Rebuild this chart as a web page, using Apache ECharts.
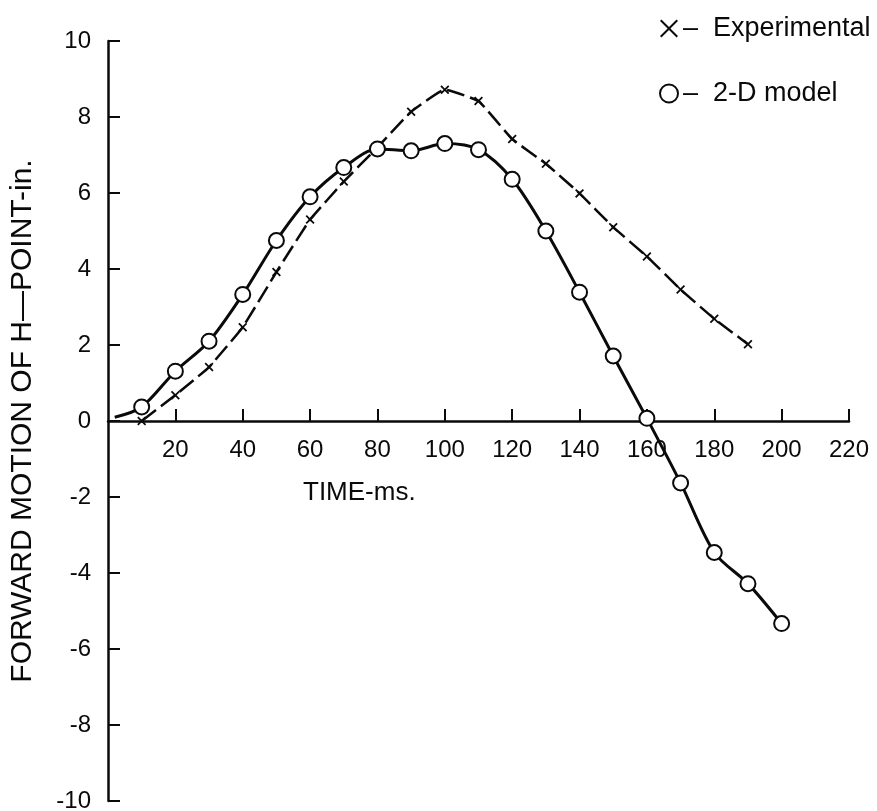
<!DOCTYPE html>
<html>
<head>
<meta charset="utf-8">
<script src="https://cdn.jsdelivr.net/npm/echarts@6/dist/echarts.min.js"></script>
<style>
html,body{margin:0;padding:0;background:#fff;}
#chart{width:877px;height:811px;}
</style>
</head>
<body>
<div id="chart"></div>
<script>
// Data
var expTime  = [10, 20, 30, 40, 50, 60, 70, 80, 90, 100, 110, 120, 130, 140, 150, 160, 170, 180, 190];
var expValue = [0, 0.68, 1.42, 2.47, 3.92, 5.3, 6.3, 7.2, 8.14, 8.72, 8.42, 7.42, 6.77, 5.99, 5.1, 4.33, 3.46, 2.69, 2.02];
// first point is the start of the fitted curve (no marker)
var modelTime  = [2, 10, 20, 30, 40, 50, 60, 70, 80, 90, 100, 110, 120, 130, 140, 150, 160, 170, 180, 190, 200];
var modelValue = [0.1, 0.37, 1.31, 2.1, 3.33, 4.75, 5.9, 6.67, 7.16, 7.11, 7.3, 7.14, 6.36, 5.0, 3.39, 1.71, 0.07, -1.63, -3.46, -4.28, -5.33];
var modelMarked = [false, true, true, true, true, true, true, true, true, true, true, true, true, true, true, true, true, true, true, true, true];

var xTicks = {min: 0, max: 220, interval: 20};
var yTicks = {min: -10, max: 10, interval: 2};

var seriesNames = ['Experimental', '2-D model'];
var xTitle = 'TIME-ms.';
var yTitle = 'FORWARD MOTION OF H\u2014POINT-in.';

var X_PATH = 'path://M0,1.4L1.4,0L5,3.6L8.6,0L10,1.4L6.4,5L10,8.6L8.6,10L5,6.4L1.4,10L0,8.6L3.6,5Z';
var X_THIN = 'path://M0,0.8L0.8,0L5,4.2L9.2,0L10,0.8L5.8,5L10,9.2L9.2,10L5,5.8L0.8,10L0,9.2L4.2,5Z';
var FONT = 'Liberation Sans, Arial, Helvetica, sans-serif';
var INK = '#0a0a0a';

var GRID = {left: 108, right: 28, top: 41, bottom: 10};
var CHART_H = 811;

var expData = expTime.map(function (t, i) { return [t, expValue[i]]; });
var modelData = modelTime.map(function (t, i) {
  var d = {value: [t, modelValue[i]]};
  if (!modelMarked[i]) { d.symbol = 'none'; }
  return d;
});

// place the x axis on the zero line of the y axis
var plotH = CHART_H - GRID.top - GRID.bottom;
var zeroFromBottom = plotH * (0 - yTicks.min) / (yTicks.max - yTicks.min);

var chart = echarts.init(document.getElementById('chart'), null, {renderer: 'canvas'});
chart.setOption({
  backgroundColor: '#fff',
  animation: false,
  grid: {left: GRID.left, right: GRID.right, top: GRID.top, bottom: GRID.bottom, containLabel: false, outerBoundsMode: 'none'},
  legend: {
    orient: 'vertical',
    left: 654, top: 10,
    itemWidth: 18, itemHeight: 18,
    itemGap: 38,
    selectedMode: false,
    textStyle: {fontFamily: FONT, fontSize: 27, color: INK},
    formatter: function (n) { return '\u2013  ' + n; },
    data: [
      {name: seriesNames[0], icon: X_THIN, itemStyle: {color: INK, borderWidth: 0}},
      {name: seriesNames[1], icon: 'emptyCircle', itemStyle: {color: INK, borderColor: INK, borderWidth: 2}}
    ]
  },
  xAxis: {
    type: 'value',
    position: 'bottom',
    offset: -zeroFromBottom,
    min: xTicks.min, max: xTicks.max, interval: xTicks.interval,
    axisLine: {show: true, onZero: false, lineStyle: {color: INK, width: 2.5}},
    axisTick: {show: true, inside: true, length: 12, lineStyle: {color: INK, width: 2}},
    axisLabel: {show: true, showMinLabel: false, margin: 17, color: INK, fontFamily: FONT, fontSize: 24},
    splitLine: {show: false}
  },
  yAxis: {
    type: 'value',
    min: yTicks.min, max: yTicks.max, interval: yTicks.interval,
    name: yTitle,
    nameLocation: 'middle',
    nameRotate: 90,
    nameGap: 70,
    nameTextStyle: {fontFamily: FONT, fontSize: 30, color: INK},
    axisLine: {show: true, onZero: false, lineStyle: {color: INK, width: 2.5}},
    axisTick: {show: true, inside: true, length: 12, lineStyle: {color: INK, width: 2}},
    axisLabel: {show: true, margin: 17, color: INK, fontFamily: FONT, fontSize: 24},
    splitLine: {show: false}
  },
  graphic: [
    {type: 'text', left: 303, top: 480, style: {text: xTitle, fontFamily: FONT, fontSize: 26, fill: INK}}
  ],
  series: [
    {
      name: seriesNames[0],
      type: 'line',
      data: expData,
      symbol: X_PATH,
      symbolSize: 9,
      smooth: 0.1,
      lineStyle: {color: INK, width: 2.5, type: [18, 6]},
      itemStyle: {color: INK, borderWidth: 0},
      z: 2
    },
    {
      name: seriesNames[1],
      type: 'line',
      data: modelData,
      symbol: 'emptyCircle',
      symbolSize: 15,
      smooth: 0.3,
      lineStyle: {color: INK, width: 3},
      itemStyle: {color: INK, borderColor: INK, borderWidth: 2.5},
      z: 3
    }
  ]
});
</script>
</body>
</html>
